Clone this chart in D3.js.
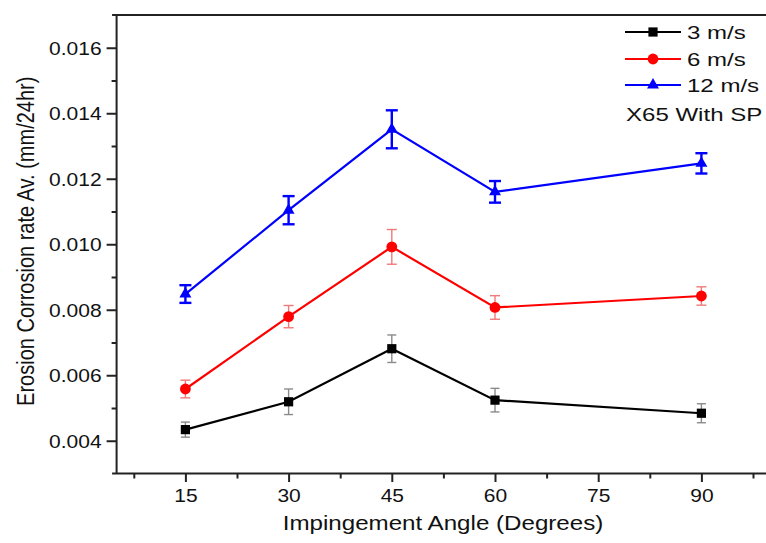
<!DOCTYPE html>
<html>
<head>
<meta charset="utf-8">
<script src="https://cdn.jsdelivr.net/npm/d3@7"></script>
<style>
  html, body { margin: 0; padding: 0; background: #fff; }
  svg { display: block; font-family: "Liberation Sans", Arial, sans-serif; }
</style>
</head>
<body>
<svg id="chart" width="766" height="543"></svg>
<script>
// ---- data ----
const angles = [15, 30, 45, 60, 90];
const rate3  = [0.00434, 0.00519, 0.00681, 0.00524, 0.00484];
const err3   = [0.00023, 0.00039, 0.00042, 0.00036, 0.00029];
const rate6  = [0.00558, 0.00779, 0.00992, 0.00807, 0.00842];
const err6   = [0.00027, 0.00034, 0.00053, 0.00036, 0.00028];
const rate12 = [0.00848, 0.01104, 0.01351, 0.01160, 0.01247];
const err12  = [0.00027, 0.00043, 0.00058, 0.00033, 0.00031];
const seriesNames = ["3 m/s", "6 m/s", "12 m/s"];
const noteText = "X65 With SP";
const xTicks = [15, 30, 45, 60, 75, 90];
const xMinorTicks = [7.5, 22.5, 37.5, 52.5, 67.5, 82.5, 97.5];
const yTicks = [0.004, 0.006, 0.008, 0.010, 0.012, 0.014, 0.016];
const yMinorTicks = [0.005, 0.007, 0.009, 0.011, 0.013, 0.015];
const xTitle = "Impingement Angle (Degrees)";
const yTitle = "Erosion Corrosion rate Av. (mm/24hr)";

// ---- layout ----
const svg = d3.select("#chart");
const pLeft = 116.6, pTop = 15, pBottom = 473.5;
const x = d3.scaleLinear().domain([5, 100]).range([pLeft, pLeft + 95 * 6.88]);
const y = d3.scaleLinear().domain([0.003, 0.017]).range([pBottom, pTop]);
const SX = 1.2; // horizontal glyph stretch seen in reference

const series = [
  { name: seriesNames[0], vals: rate3,  errs: err3,  color: "#000000", errColor: "#8a8a8a", errW: 1.4, cap: 4.5, shape: "square" },
  { name: seriesNames[1], vals: rate6,  errs: err6,  color: "#ff0000", errColor: "#f07a7a", errW: 1.4, cap: 5,   shape: "circle" },
  { name: seriesNames[2], vals: rate12, errs: err12, color: "#0000ff", errColor: "#0000ff", errW: 2.4, cap: 6,   shape: "triangle" }
];

function marker(sel, shape, color) {
  if (shape === "square") {
    sel.append("rect").attr("x", -4.6).attr("y", -4.6).attr("width", 9.2).attr("height", 9.2).attr("fill", color);
  } else if (shape === "circle") {
    sel.append("circle").attr("r", 5.4).attr("fill", color);
  } else {
    sel.append("path").attr("d", d3.symbol(d3.symbolTriangle, 62)()).attr("fill", color);
  }
}

// ---- axes ----
const gx = svg.append("g").attr("transform", `translate(0,${pBottom})`)
  .call(d3.axisBottom(x).tickValues(xTicks).tickSize(8.5).tickFormat(d3.format("d")));
svg.append("g").attr("transform", `translate(0,${pBottom})`)
  .call(d3.axisBottom(x).tickValues(xMinorTicks).tickSize(5).tickFormat(""))
  .call(g => g.select(".domain").remove());
const gy = svg.append("g").attr("transform", `translate(${pLeft},0)`)
  .call(d3.axisLeft(y).tickValues(yTicks).tickSize(10).tickFormat(d3.format(".3f")));
svg.append("g").attr("transform", `translate(${pLeft},0)`)
  .call(d3.axisLeft(y).tickValues(yMinorTicks).tickSize(5).tickFormat(""))
  .call(g => g.select(".domain").remove());

svg.selectAll(".tick line").attr("stroke", "#222").attr("stroke-width", 2);
gx.select(".domain").remove();
gy.select(".domain").remove();

// frame lines
svg.append("line").attr("x1", pLeft - 4.5).attr("x2", 766).attr("y1", pBottom).attr("y2", pBottom).attr("stroke", "#222").attr("stroke-width", 2);
svg.append("line").attr("x1", pLeft - 4.5).attr("x2", 766).attr("y1", pTop).attr("y2", pTop).attr("stroke", "#222").attr("stroke-width", 2);
svg.append("line").attr("x1", pLeft).attr("x2", pLeft).attr("y1", pTop).attr("y2", pBottom).attr("stroke", "#222").attr("stroke-width", 2);

gx.selectAll(".tick text")
  .attr("y", null).attr("dy", null)
  .attr("transform", `translate(0,28.5) scale(${SX},1)`)
  .attr("font-size", 17.5).attr("fill", "#111").attr("font-family", "Liberation Sans, Arial, sans-serif");
gy.selectAll(".tick text")
  .attr("x", null).attr("dy", "0.36em")
  .attr("transform", `translate(-15,0) scale(${SX},1)`)
  .attr("font-size", 17.5).attr("fill", "#111").attr("font-family", "Liberation Sans, Arial, sans-serif");

// axis titles
svg.append("text")
  .attr("transform", `translate(443,530) scale(1.15,1)`)
  .attr("text-anchor", "middle").attr("font-size", 21).attr("fill", "#111")
  .text(xTitle);
svg.append("text")
  .attr("transform", `translate(34,${(pTop + pBottom) / 2 - 3}) scale(1.15,1) rotate(-90)`)
  .attr("text-anchor", "middle").attr("font-size", 20).attr("fill", "#111")
  .text(yTitle);

// ---- data marks ----
const line = d3.line().x(d => x(d[0])).y(d => y(d[1]));
series.forEach(s => {
  const pts = angles.map((a, i) => [a, s.vals[i], s.errs[i]]);
  svg.append("path").datum(pts).attr("d", line)
    .attr("fill", "none").attr("stroke", s.color).attr("stroke-width", 2.2);
});
series.forEach(s => {
  const pts = angles.map((a, i) => [a, s.vals[i], s.errs[i]]);
  const eg = svg.append("g").attr("stroke", s.errColor).attr("stroke-width", s.errW);
  pts.forEach(p => {
    const cx = x(p[0]), y1 = y(p[1] + p[2]), y2 = y(p[1] - p[2]);
    eg.append("line").attr("x1", cx).attr("x2", cx).attr("y1", y1).attr("y2", y2);
    eg.append("line").attr("x1", cx - s.cap).attr("x2", cx + s.cap).attr("y1", y1).attr("y2", y1);
    eg.append("line").attr("x1", cx - s.cap).attr("x2", cx + s.cap).attr("y1", y2).attr("y2", y2);
  });
  pts.forEach(p => {
    const g = svg.append("g").attr("transform", `translate(${x(p[0])},${y(p[1])})`);
    marker(g, s.shape, s.color);
  });
});

// ---- legend ----
const legRows = [32, 59, 85];
series.forEach((s, i) => {
  const ly = legRows[i];
  svg.append("line").attr("x1", 625).attr("x2", 681).attr("y1", ly).attr("y2", ly)
    .attr("stroke", s.color).attr("stroke-width", 2.2);
  const g = svg.append("g").attr("transform", `translate(653,${ly})`);
  marker(g, s.shape, s.color);
  svg.append("text").attr("transform", `translate(687,${ly + 6.5}) scale(1.3,1)`)
    .attr("font-size", 18.5).attr("fill", "#111").text(s.name);
});
svg.append("text").attr("transform", `translate(626,120.5) scale(1.3,1)`)
  .attr("font-size", 18.5).attr("fill", "#111").text(noteText);
</script>
</body>
</html>
